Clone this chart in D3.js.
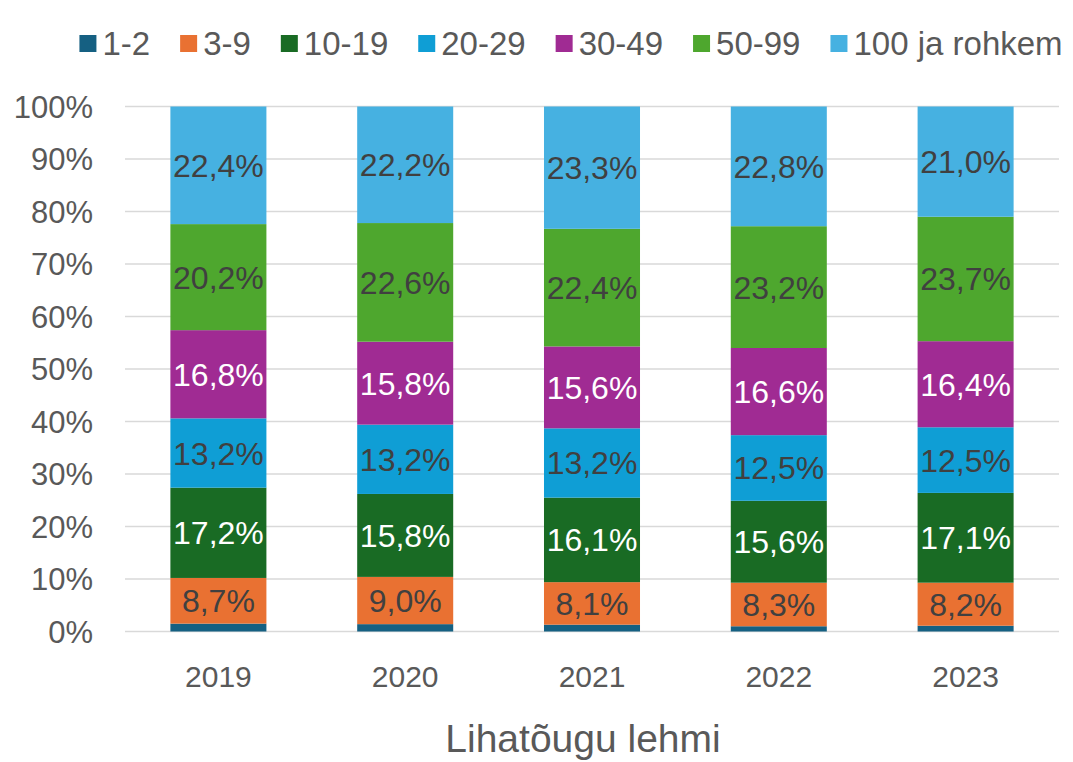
<!DOCTYPE html>
<html>
<head>
<meta charset="utf-8">
<script src="https://cdn.jsdelivr.net/npm/d3@7"></script>
<style>
  body { margin: 0; background: #fff; }
  text { font-family: "Liberation Sans", Arial, sans-serif; }
</style>
</head>
<body>
<svg id="chart" width="1073" height="762"></svg>
<script>
// data
var years = ['2019', '2020', '2021', '2022', '2023'];
var groups = ['1-2', '3-9', '10-19', '20-29', '30-49', '50-99', '100 ja rohkem'];
var colors = ['#156082', '#E97132', '#196B24', '#0F9ED5', '#A02B93', '#4EA72E', '#46B1E1'];
var labelColors = [null, '#404040', '#ffffff', '#404040', '#ffffff', '#404040', '#404040'];
var s12 = [1.5, 1.4, 1.3, 1.0, 1.1];
var s39 = [8.7, 9.0, 8.1, 8.3, 8.2];
var s1019 = [17.2, 15.8, 16.1, 15.6, 17.1];
var s2029 = [13.2, 13.2, 13.2, 12.5, 12.5];
var s3049 = [16.8, 15.8, 15.6, 16.6, 16.4];
var s5099 = [20.2, 22.6, 22.4, 23.2, 23.7];
var s100 = [22.4, 22.2, 23.3, 22.8, 21.0];
var yTicks = [0, 10, 20, 30, 40, 50, 60, 70, 80, 90, 100];
var xTitle = 'Lihatõugu lehmi';

var series = [s12, s39, s1019, s2029, s3049, s5099, s100];

var svg = d3.select('#chart');

var x = d3.scaleBand().domain(years).range([125, 1059]).paddingInner(0.486).paddingOuter(0.243);
var y = d3.scaleLinear().domain([0, 100]).range([631.5, 106.5]);

// rows for stacking
var rows = years.map(function(yr, i) {
  var r = { year: yr };
  groups.forEach(function(g, k) { r[g] = series[k][i]; });
  return r;
});
var stack = d3.stack().keys(groups).offset(d3.stackOffsetExpand);
var stacked = stack(rows);

// gridlines
svg.append('g').selectAll('line').data(yTicks).enter().append('line')
  .attr('x1', 125).attr('x2', 1059)
  .attr('y1', function(d) { return y(d); }).attr('y2', function(d) { return y(d); })
  .style('stroke', '#d9d9d9').style('stroke-width', 1.5);

// y tick labels
svg.append('g').selectAll('text').data(yTicks).enter().append('text')
  .attr('x', 93).attr('y', function(d) { return y(d); })
  .attr('dy', '0.36em')
  .attr('text-anchor', 'end')
  .style('font-size', '31px').style('fill', '#595959')
  .text(function(d) { return d + '%'; });

// bars
var layer = svg.append('g').selectAll('g').data(stacked).enter().append('g')
  .style('fill', function(d, i) { return colors[i]; });
layer.selectAll('rect').data(function(d) { return d; }).enter().append('rect')
  .attr('x', function(d) { return x(d.data.year); })
  .attr('width', x.bandwidth())
  .attr('y', function(d) { return y(d[1] * 100); })
  .attr('height', function(d) { return y(d[0] * 100) - y(d[1] * 100); });

// data labels (not for the thin 1-2 segment)
var lab = svg.append('g').selectAll('g').data(stacked.slice(1)).enter().append('g')
  .style('fill', function(d, i) { return labelColors[i + 1]; });
lab.selectAll('text').data(function(d) { return d.map(function(v) { v.key = d.key; return v; }); })
  .enter().append('text')
  .attr('x', function(d) { return x(d.data.year) + x.bandwidth() / 2; })
  .attr('y', function(d) { return y((d[0] + d[1]) / 2 * 100); })
  .attr('dy', '0.36em')
  .attr('text-anchor', 'middle')
  .style('font-size', '32px')
  .text(function(d) { return d.data[d.key].toFixed(1).replace('.', ',') + '%'; });

// x labels
svg.append('g').selectAll('text').data(years).enter().append('text')
  .attr('x', function(d) { return x(d) + x.bandwidth() / 2; })
  .attr('y', 687)
  .attr('text-anchor', 'middle')
  .style('font-size', '30px').style('fill', '#595959')
  .text(function(d) { return d; });

// axis title
svg.append('text')
  .attr('x', 583).attr('y', 752)
  .attr('text-anchor', 'middle')
  .style('font-size', '39px').style('fill', '#595959')
  .text(xTitle);

// legend
var legend = svg.append('g');
var items = legend.selectAll('g').data(groups).enter().append('g');
items.append('rect').attr('width', 17).attr('height', 17).attr('y', 35)
  .style('fill', function(d, i) { return colors[i]; });
items.append('text').attr('x', 23).attr('y', 43).attr('dy', '0.36em')
  .style('font-size', '33px').style('fill', '#595959')
  .text(function(d) { return d; });
var xpos = 0, offs = [];
items.each(function() {
  offs.push(xpos);
  xpos += 23 + d3.select(this).select('text').node().getComputedTextLength() + 30;
});
var total = xpos - 30;
var start = 571 - total / 2;
items.attr('transform', function(d, i) { return 'translate(' + (start + offs[i]) + ',0)'; });
</script>
</body>
</html>
